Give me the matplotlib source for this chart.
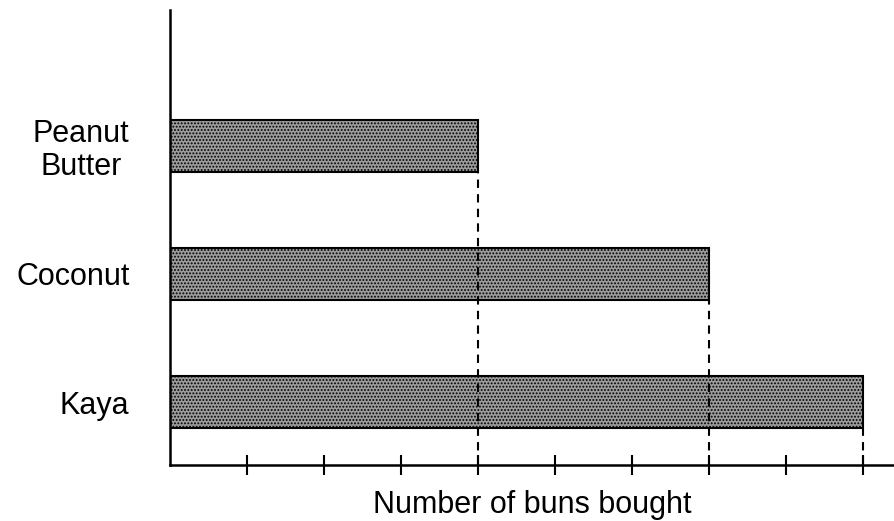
import matplotlib
matplotlib.use("Agg")
import matplotlib.pyplot as plt

# bun flavours, bottom to top
flavours = ["Kaya", "Coconut", "Peanut\nButter"]
buns = [9, 7, 4]
tick_vals = [1, 2, 3, 4, 5, 6, 7, 8, 9]

plt.rcParams['font.family'] = ['Liberation Sans', 'DejaVu Sans']
plt.rcParams['hatch.linewidth'] = 0.9
plt.rcParams['hatch.color'] = '#3c3c3c'

fig = plt.figure(figsize=(8.94, 5.21), dpi=100)
ax = fig.add_axes([0.19, 0.1075, 0.81, 0.8735])

ypos = list(range(len(flavours)))
bar_h = 0.41
ax.barh(ypos, buns, height=bar_h, color='#9c9c9c', edgecolor='black',
        linewidth=1.5, hatch='.....', align='center')

ylo = -0.49
# dashed guides from bar ends down to the axis
for y, v in zip(ypos, buns):
    ax.vlines(v, ylo, y - bar_h / 2, colors='black', linestyles=(0, (4, 3)), linewidth=1.5)

ax.set_xlim(0, 9.4)
ax.set_ylim(ylo, 3.06)
ax.set_yticks(ypos)
ax.set_yticklabels(flavours, fontsize=22, ha='right', multialignment='center',
                   linespacing=1.1)
ax.tick_params(axis='y', length=0, pad=29)
ax.set_xticks(tick_vals)
ax.set_xticklabels([])
ax.tick_params(axis='x', direction='inout', length=14, width=1.5)

ax.spines['top'].set_visible(False)
ax.spines['right'].set_visible(False)
ax.spines['left'].set_linewidth(1.8)
ax.spines['bottom'].set_linewidth(1.8)

ax.set_xlabel("Number of buns bought", fontsize=22)
ax.xaxis.set_label_coords(0.5, -0.055, transform=ax.transAxes)

fig.savefig("out.png", dpi=100)
